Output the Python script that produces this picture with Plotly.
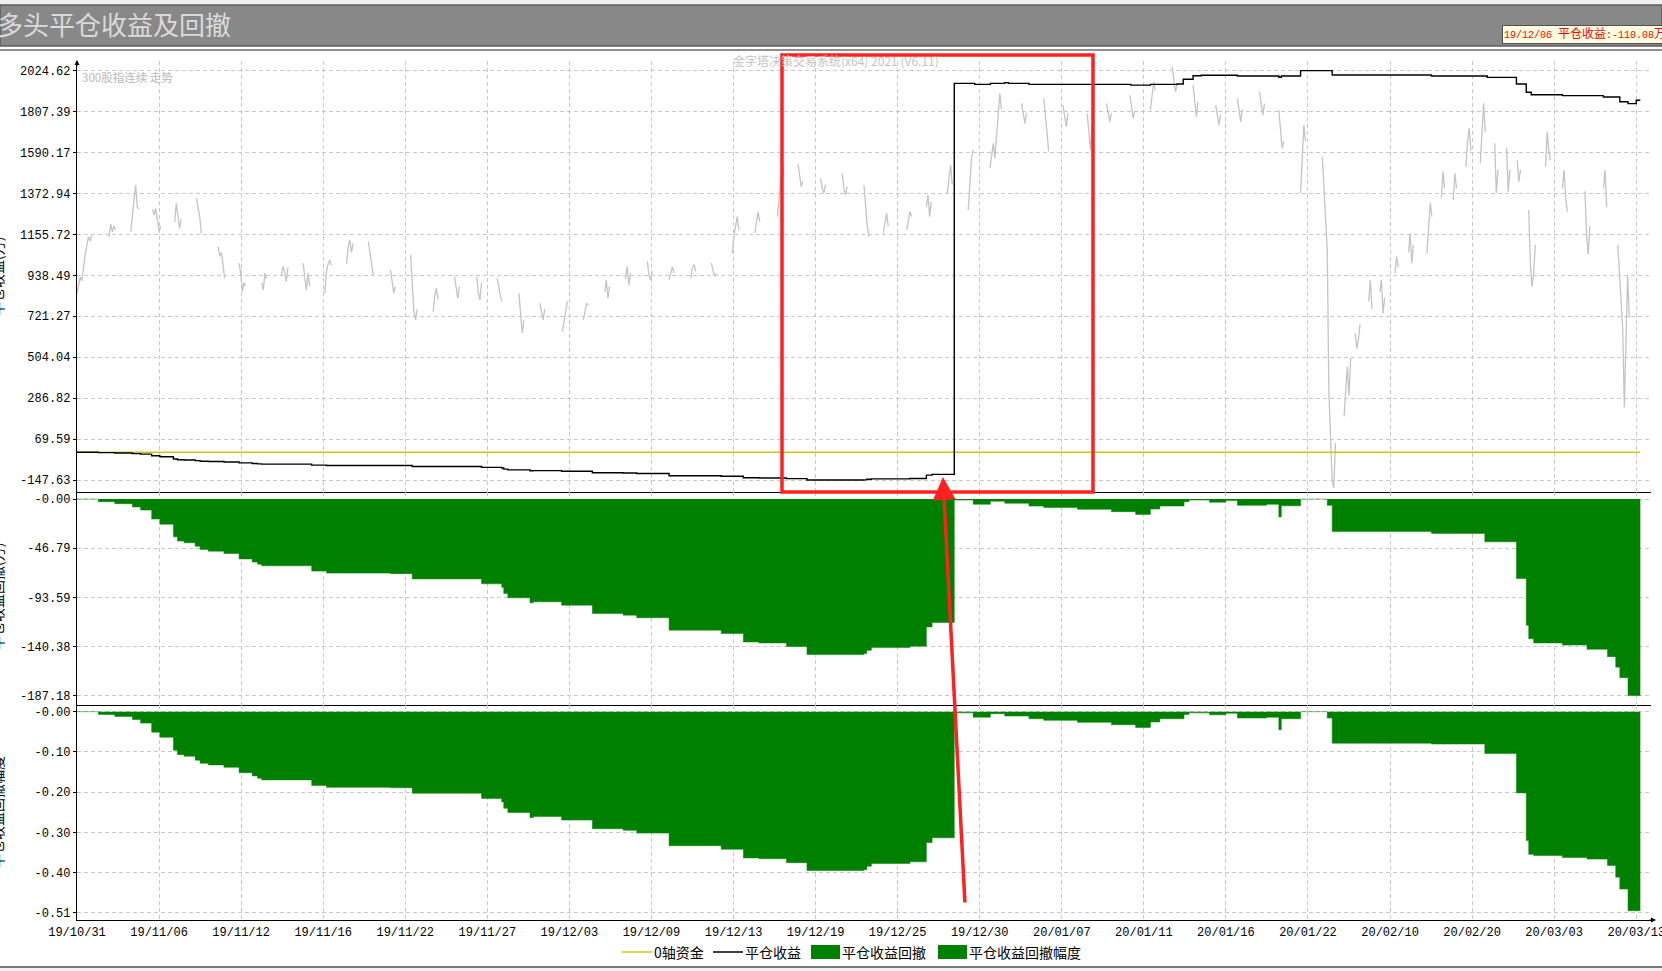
import plotly.graph_objects as go

W, H = 1662, 971

# ---------------- data ----------------
x_tick_bars = [0, 20, 40, 60, 80, 100, 120, 140, 160, 180, 200, 220, 240, 260, 280, 300, 320, 340, 360, 380]
x_tick_labels = ["19/10/31", "19/11/06", "19/11/12", "19/11/16", "19/11/22", "19/11/27", "19/12/03",
                 "19/12/09", "19/12/13", "19/12/19", "19/12/25", "19/12/30", "20/01/07", "20/01/11",
                 "20/01/16", "20/01/22", "20/02/10", "20/02/20", "20/03/03", "20/03/13"]

price_ticks = [2024.62, 1807.39, 1590.17, 1372.94, 1155.72, 938.49, 721.27, 504.04, 286.82, 69.59, -147.63]
price_tick_text = ["2024.62", "1807.39", "1590.17", "1372.94", "1155.72", "938.49", "721.27", "504.04",
                   "286.82", "69.59", "-147.63"]
dd_ticks = [0, -46.79, -93.59, -140.38, -187.18]
dd_tick_text = ["-0.00", "-46.79", "-93.59", "-140.38", "-187.18"]
ratio_ticks = [0, -0.102, -0.204, -0.306, -0.408, -0.51]
ratio_tick_text = ["-0.00", "-0.10", "-0.20", "-0.30", "-0.40", "-0.51"]

# index trend (300股指连续 走势): clusters of bars (start bar, values)
price_cluster_start = [0, 7.8, 13.1, 18.4, 23.8, 29.1, 34.4, 39.5, 45, 49.8, 55.1, 60.4, 65.7, 71, 76.4,
                       81.3, 86.8, 92, 97.4, 102.4, 107.7, 112.8, 118.3, 123.4, 128.6, 133.7, 139, 144.3,
                       149.6, 154.6, 159.7, 165.2, 170.7, 175.7, 181.2, 186.5, 191.8, 196.5, 202.2, 207,
                       212.1, 217.2, 222.5, 230.2, 235.6, 240.3, 246.2, 250.9, 256.6, 261.6, 266.9, 272,
                       277.5, 282.8, 288.2, 292.9, 298.2, 303.5, 308.8, 311.5, 314.8, 317.5, 321.2, 324.5,
                       329, 332.5, 335.4, 338.5, 342, 345.5, 348.4, 351, 353.8, 357.9, 362, 367.5, 372, 375.5]
price_cluster_vals = [
    [844, 880, 930, 910, 1000, 1050, 1100, 1144, 1120, 1150],
    [1144, 1210, 1170, 1200, 1180],
    [1170, 1250, 1330, 1418, 1300, 1290],
    [1290, 1260, 1294, 1220, 1170, 1200],
    [1220, 1321, 1250, 1188, 1240],
    [1347, 1300, 1250, 1162],
    [1091, 1040, 1060, 990, 923],
    [1003, 950, 852, 900, 880],
    [900, 861, 950, 920],
    [940, 985, 960, 905, 980],
    [1003, 920, 861, 950, 880],
    [844, 960, 1000, 1020, 990],
    [1000, 1090, 1126, 1060, 1110],
    [1118, 1060, 1000, 941],
    [967, 900, 844, 880],
    [1047, 900, 750, 702, 760],
    [746, 830, 870, 810],
    [932, 860, 817, 880],
    [932, 850, 808, 900],
    [923, 870, 830, 800],
    [844, 740, 632, 700],
    [791, 740, 702, 760],
    [640, 700, 760, 800],
    [702, 750, 791, 780],
    [850, 914, 817, 880],
    [920, 985, 888, 950],
    [1012, 940, 914, 960],
    [914, 960, 985, 950],
    [923, 980, 994, 960],
    [1003, 960, 932, 950],
    [1056, 1150, 1200, 1250, 1180],
    [1162, 1230, 1277, 1220],
    [1250, 1350, 1450, 1533, 1470],
    [1533, 1480, 1409, 1440],
    [1453, 1400, 1374, 1420],
    [1480, 1400, 1365, 1410],
    [1418, 1300, 1200, 1144],
    [1162, 1220, 1268, 1200],
    [1180, 1230, 1277, 1250],
    [1300, 1365, 1250, 1330],
    [1374, 1450, 1524, 1420],
    [1285, 1400, 1560, 1604],
    [1507, 1580, 1639, 1560, 1692, 1800, 1904, 1820],
    [1851, 1790, 1745, 1800],
    [1878, 1800, 1700, 1595],
    [1842, 1780, 1727, 1800],
    [1798, 1700, 1604, 1740],
    [1851, 1790, 1754, 1800],
    [1895, 1830, 1772, 1810],
    [1816, 1880, 1966, 1920],
    [2046, 1980, 1913, 1950],
    [1948, 1850, 1780, 1860],
    [1842, 1780, 1736, 1790],
    [1878, 1800, 1754, 1820],
    [1913, 1860, 1789, 1850],
    [1816, 1700, 1613, 1650],
    [1374, 1550, 1736, 1650],
    [1568, 1400, 1200, 1074, 313, 100, -150, -190, 50],
    [190, 350, 455, 300, 500],
    [632, 550, 600, 680],
    [800, 914, 760],
    [850, 914, 738, 820],
    [950, 1038, 980],
    [1060, 1162, 1003, 1100],
    [1056, 1200, 1321, 1250],
    [1350, 1489, 1400],
    [1338, 1480, 1400],
    [1515, 1650, 1719, 1600],
    [1533, 1700, 1851, 1700],
    [1639, 1374, 1500],
    [1613, 1383, 1500],
    [1551, 1436, 1500],
    [1285, 1000, 879, 950, 1100],
    [1515, 1701, 1600, 1550],
    [1400, 1497, 1350, 1275],
    [1385, 1150, 1050, 1200],
    [1400, 1497, 1300],
    [1100, 950, 770, 660, 238, 600, 938, 714],
]

zero_axis_x = [0, 381]
zero_axis_y = [0, 0]

equity_x = [0, 5.2, 9.2, 13.5, 15.5, 18.2, 20.2, 23.5, 24.5, 26.1, 28.8, 30, 32, 35.8, 39.5, 42.7, 44, 45,
            57.2, 60.8, 76.4, 81.7, 98.6, 103.5, 104, 105, 110.4, 111.2, 118.1, 125.6, 133.1, 136.4, 144.3,
            157, 162.4, 166.2, 172.9, 177.9, 191.8, 192.5, 193.6, 203, 207, 208.4, 213.8, 218.8, 222.6,
            226.1, 227, 232, 256.8, 261.6, 268.1, 269.6, 272, 274, 282.8, 292.9, 293.5, 298.2, 305.9,
            330.1, 343.7, 350.8, 353.2, 354.4, 362, 372, 376, 378, 380, 381]
equity_y = [0, -2.5, -4.4, -7.5, -10.5, -19, -24, -36, -40, -41.6, -45, -48, -49.6, -51.8, -57, -60, -62,
            -63.5, -68.6, -70.5, -71, -76, -80.7, -84, -90, -94, -98.8, -97.8, -101, -109, -110.5, -113,
            -124.8, -128, -136, -137, -140.4, -148, -147, -144, -141.4, -140, -121.7, -117.5, 1957, 1952,
            1957, 1961, 1957, 1952, 1948, 1952, 1954, 1979, 1998, 2000, 1996, 1990, 1996, 2025, 2002, 1996,
            1989, 1954, 1910, 1897, 1892, 1885, 1860, 1850, 1868, 1868]

dd_x = [0, 5.2, 9.2, 13.5, 15.5, 18.2, 20.2, 23.5, 24.5, 26.1, 28.8, 30, 32, 35.8, 39.5, 42.7, 44, 45,
        57.2, 60.8, 76.4, 81.7, 98.6, 103.5, 104, 105, 110.4, 111.2, 118.1, 125.6, 133.1, 136.4, 144.3,
        157, 162.4, 166.2, 172.9, 177.9, 191.8, 192.5, 193.6, 203, 207, 208.4, 213.8, 218.4, 222.6, 226.1,
        232, 235.6, 243.8, 252.1, 258, 261.6, 263.9, 269.8, 271, 276, 280, 282.8, 289.9, 292.9, 293.5,
        298.2, 304.7, 305.9, 330.1, 343.1, 350.8, 353.2, 353.8, 355, 362, 368, 373, 375, 376, 378, 381]
dd_y = [0, -2.5, -4.4, -7.5, -10.5, -19, -24, -36, -40, -41.6, -45, -48, -49.6, -51.8, -57, -60, -62, -63.5,
        -68.6, -70.5, -71, -76, -80.7, -84, -90, -94, -98.8, -97.8, -101, -109, -110.5, -113, -124.8, -128,
        -136, -137, -140.4, -148, -147, -144, -141.4, -140, -121.7, -117.5, -1, -5, -2, -4, -6.7, -8, -9.8,
        -12, -14.6, -9.5, -6.7, -2.5, -1, -3, -1.5, -6, -5, -17, -6.5, 0, -6, -31, -32.7, -40.7, -75.6,
        -120, -133, -137, -139, -143, -150, -160, -170, -187, -187]
ratio_y = [0, -0.007, -0.012, -0.020, -0.029, -0.052, -0.065, -0.098, -0.109, -0.113, -0.123, -0.131,
           -0.135, -0.141, -0.155, -0.163, -0.169, -0.173, -0.187, -0.192, -0.193, -0.207, -0.220, -0.229,
           -0.245, -0.256, -0.269, -0.266, -0.275, -0.297, -0.301, -0.308, -0.340, -0.349, -0.371, -0.373,
           -0.383, -0.403, -0.401, -0.392, -0.385, -0.381, -0.332, -0.320, -0.003, -0.014, -0.005, -0.011,
           -0.018, -0.022, -0.027, -0.033, -0.040, -0.026, -0.018, -0.007, -0.003, -0.008, -0.004, -0.016,
           -0.014, -0.046, -0.018, 0, -0.016, -0.080, -0.082, -0.106, -0.206, -0.327, -0.362, -0.365,
           -0.370, -0.374, -0.390, -0.420, -0.450, -0.505, -0.505]

# ---------------- helpers (pixel -> paper) ----------------
def px(v):
    return v / W


def py(v):
    return 1 - v / H


price_x, price_y = [], []
for s, vals in zip(price_cluster_start, price_cluster_vals):
    for i, v in enumerate(vals):
        price_x.append(s + 0.4 * i)
        price_y.append(v)
    price_x.append(None)
    price_y.append(None)

GREEN = "#008000"
GRID = "#c8c8c8"
MONO = "Liberation Mono, DejaVu Sans Mono, monospace"
CJK = "Noto Sans CJK SC, sans-serif"

fig = go.Figure()
fig.add_trace(go.Scatter(x=price_x, y=price_y, mode="lines", line=dict(color="#c4c4c4", width=1.3),
                         connectgaps=False, name="300股指连续", xaxis="x", yaxis="y"))
fig.add_trace(go.Scatter(x=zero_axis_x, y=zero_axis_y, mode="lines", line=dict(color="#c8c814", width=1.5),
                         name="0轴资金", xaxis="x", yaxis="y"))
fig.add_trace(go.Scatter(x=equity_x, y=equity_y, mode="lines", line=dict(color="#000000", width=1.4, shape="hv"),
                         name="平仓收益", xaxis="x", yaxis="y"))
fig.add_trace(go.Scatter(x=dd_x, y=dd_y, mode="lines", line=dict(color=GREEN, width=0.5, shape="hv"),
                         fill="tozeroy", fillcolor=GREEN, name="平仓收益回撤", xaxis="x2", yaxis="y2"))
fig.add_trace(go.Scatter(x=dd_x, y=ratio_y, mode="lines", line=dict(color=GREEN, width=0.5, shape="hv"),
                         fill="tozeroy", fillcolor=GREEN, name="平仓收益回撤幅度", xaxis="x3", yaxis="y3"))

xdom = [px(77), px(1651)]
xr = [0, 383.6]
common_x = dict(range=xr, domain=xdom, tickvals=x_tick_bars, ticktext=x_tick_labels, showgrid=True,
                gridcolor=GRID, griddash="4px,3px", gridwidth=1, zeroline=False, showline=True,
                linecolor="#000000", linewidth=1.2, ticks="", fixedrange=True)
common_y = dict(showgrid=True, gridcolor=GRID, griddash="4px,3px", gridwidth=1, zeroline=False,
                showline=True, linecolor="#000000", linewidth=1.2, ticks="outside", ticklen=3,
                tickcolor="#000000", tickfont=dict(family=MONO, size=12, color="#000000"), fixedrange=True)

fig.update_layout(
    width=W, height=H, margin=dict(l=0, r=0, t=0, b=0, pad=0, autoexpand=False), autosize=False,
    paper_bgcolor="white", plot_bgcolor="white", showlegend=False,
    xaxis=dict(common_x, anchor="y", showticklabels=False),
    xaxis2=dict(common_x, anchor="y2", showticklabels=False),
    xaxis3=dict(common_x, anchor="y3", showticklabels=True, ticklabeloverflow="allow",
                tickfont=dict(family=MONO, size=12, color="#000000")),
    yaxis=dict(common_y, anchor="x", domain=[py(492), py(61)], range=[-211.3, 2076],
               tickvals=price_ticks, ticktext=price_tick_text),
    yaxis2=dict(common_y, anchor="x2", domain=[py(705.3), py(492)], range=[-196.3, 6.7],
                tickvals=dd_ticks, ticktext=dd_tick_text),
    yaxis3=dict(common_y, anchor="x3", domain=[py(920), py(705.3)], range=[-0.5285, 0.0162],
                tickvals=ratio_ticks, ticktext=ratio_tick_text),
)

shapes = [
    dict(type="rect", xref="paper", yref="paper", x0=0, x1=1, y0=py(5), y1=1,
         fillcolor="#f0f0f0", line=dict(width=0), layer="below"),
    dict(type="rect", xref="paper", yref="paper", x0=0, x1=1, y0=py(46), y1=py(5),
         fillcolor="#888888", line=dict(color="#5e5e5e", width=1.5), layer="below"),
    dict(type="line", xref="paper", yref="paper", x0=0, x1=1, y0=py(50), y1=py(50),
         line=dict(color="#6a6a6a", width=1.5)),
    dict(type="line", xref="paper", yref="paper", x0=0, x1=1, y0=py(967), y1=py(967),
         line=dict(color="#7a7a7a", width=2)),
    dict(type="rect", xref="paper", yref="paper", x0=0, x1=1, y0=0, y1=py(968),
         fillcolor="#f0f0f0", line=dict(width=0), layer="below"),
    # red highlight box
    dict(type="rect", xref="paper", yref="paper", x0=px(782), x1=px(1093), y0=py(492), y1=py(55),
         line=dict(color="#ff2020", width=3.5)),
    # manual legend
    dict(type="line", xref="paper", yref="paper", x0=px(622), x1=px(652), y0=py(952), y1=py(952),
         line=dict(color="#c8c814", width=1.5)),
    dict(type="line", xref="paper", yref="paper", x0=px(713), x1=px(743), y0=py(952), y1=py(952),
         line=dict(color="#000000", width=1.5)),
    dict(type="rect", xref="paper", yref="paper", x0=px(811), x1=px(840), y0=py(959), y1=py(945),
         fillcolor=GREEN, line=dict(width=0)),
    dict(type="rect", xref="paper", yref="paper", x0=px(938), x1=px(967), y0=py(959), y1=py(945),
         fillcolor=GREEN, line=dict(width=0)),
]
fig.update_layout(shapes=shapes)

label_text = ("<span style='font-size:10px'>19/12/06 </span>平仓收益"
              "<span style='font-size:10px'>:-110.08</span>万")

ann = [
    dict(text="多头平仓收益及回撤", x=px(-5), y=py(23), xanchor="left", yanchor="middle",
         font=dict(family=CJK, size=26, color="#dadada"), showarrow=False),
    dict(text=label_text, x=px(1502), y=py(35), xanchor="left", yanchor="middle",
         font=dict(family="Liberation Mono, Noto Sans CJK SC", size=12, color="#ff0000"),
         bgcolor="#ffffe1", bordercolor="#505050", borderwidth=1, borderpad=1, showarrow=False),
    dict(text="金字塔决策交易系统(x64) 2021 (V6.11)", x=px(731), y=py(60), xanchor="left", yanchor="middle",
         font=dict(family=CJK, size=12, color="#c4c4c4"), showarrow=False),
    dict(text="300股指连续 走势", x=px(80), y=py(77), xanchor="left", yanchor="middle",
         font=dict(family=CJK, size=11.5, color="#b8b8b8"), showarrow=False),
    dict(text="平仓收益(万)", x=px(-3), y=py(277), xanchor="center", yanchor="middle", textangle=-90,
         font=dict(family=CJK, size=14, color="#000000"), showarrow=False),
    dict(text="平仓收益回撤(万)", x=px(-3), y=py(597), xanchor="center", yanchor="middle", textangle=-90,
         font=dict(family=CJK, size=14, color="#000000"), showarrow=False),
    dict(text="平仓收益回撤幅度", x=px(-3), y=py(812), xanchor="center", yanchor="middle", textangle=-90,
         font=dict(family=CJK, size=14, color="#000000"), showarrow=False),
    # legend texts
    dict(text="0轴资金", x=px(652), y=py(952), xanchor="left", yanchor="middle",
         font=dict(family=CJK, size=14, color="#000000"), showarrow=False),
    dict(text="平仓收益", x=px(743), y=py(952), xanchor="left", yanchor="middle",
         font=dict(family=CJK, size=14, color="#000000"), showarrow=False),
    dict(text="平仓收益回撤", x=px(840), y=py(952), xanchor="left", yanchor="middle",
         font=dict(family=CJK, size=14, color="#000000"), showarrow=False),
    dict(text="平仓收益回撤幅度", x=px(967), y=py(952), xanchor="left", yanchor="middle",
         font=dict(family=CJK, size=14, color="#000000"), showarrow=False),
    # red arrow
    dict(text="", x=px(943), y=py(477), ax=22, ay=427, showarrow=True, arrowhead=2, arrowsize=1.3,
         arrowwidth=3.5, arrowcolor="#ff2020", standoff=0),
    # axis arrows
    dict(text="", x=px(77), y=py(60), ax=0, ay=8, showarrow=True, arrowhead=2, arrowsize=1,
         arrowwidth=1, arrowcolor="#000000", standoff=0),
    dict(text="", x=px(1656), y=py(920), ax=-8, ay=0, showarrow=True, arrowhead=2, arrowsize=1,
         arrowwidth=1, arrowcolor="#000000", standoff=0),
]
for a in ann:
    a.setdefault("xref", "paper")
    a.setdefault("yref", "paper")
fig.update_layout(annotations=ann)

fig.write_html("out.html", config={"displayModeBar": False},
               post_script="document.body.style.margin='0';document.body.style.overflow='hidden';")
